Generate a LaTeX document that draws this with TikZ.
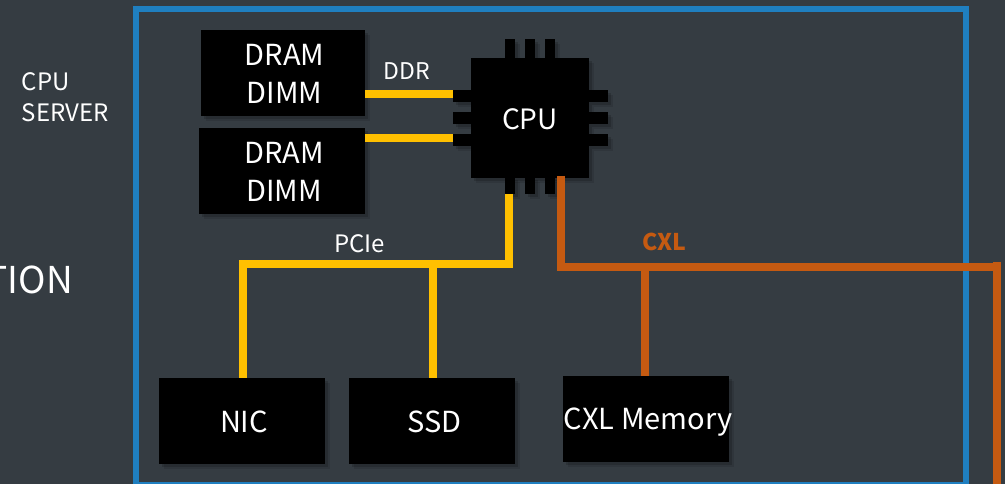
\documentclass[tikz,border=0pt]{standalone}
\usepackage{fontspec}
\setmainfont{Noto Sans CJK SC}[Scale=1.0]
\usetikzlibrary{shadows}
\definecolor{bgc}{HTML}{353C42}
\definecolor{frameblue}{HTML}{1F7FC0}
\definecolor{busyellow}{HTML}{FFC000}
\definecolor{busorange}{HTML}{C55A11}
\newcommand{\fsl}[2]{\fontsize{#1pt}{#2pt}\selectfont}
\tikzset{
  x=1pt,y=-1pt,
  softshadow/.style={preaction={fill=black,opacity=.10,transform canvas={xshift=5pt,yshift=-5pt}},
                     preaction={fill=black,opacity=.16,transform canvas={xshift=3pt,yshift=-3pt}}},
  blk/.style={fill=black,draw=none,softshadow,inner sep=0pt,outer sep=0pt,minimum width=#1,minimum height=86pt},
  boxtext/.style={text=white,inner sep=0pt,align=center,font=\fsl{29}{38}},
  pinbox/.style={fill=black,draw=none,softshadow,inner sep=0pt,outer sep=0pt,minimum width=#1},
  lbl/.style={text=white,inner sep=0pt,font=\fsl{24}{28}},
  ddrbus/.style={draw=busyellow,line width=8pt},
  cxlbus/.style={draw=busorange,line width=8pt},
}
\begin{document}
\begin{tikzpicture}
\useasboundingbox (0,0) rectangle (1005,484);
\fill[bgc] (0,0) rectangle (1005,484);
\clip (0,0) rectangle (1005,484);
% text at left
\node[lbl,anchor=base west] (cputitle) at (21.5,91) {CPU};
\node[lbl,anchor=base west] (servertitle) at (21.5,122) {SERVER};
\node[text=white,inner sep=0pt,font=\fsl{37}{40},anchor=base east] (tion) at (73,293) {TION};
% frame
\draw[frameblue,line width=6pt] (136,9) rectangle (966,485);
% coordinates of the buses
\coordinate (pcieTop) at (509,194);
\coordinate (pcieR) at (509,264);
\coordinate (pcieL) at (243,264);
\coordinate (pcieM) at (433,264);
\coordinate (cxlTop) at (561,176);
\coordinate (cxlJ) at (561,267);
\coordinate (cxlM) at (645,267);
\coordinate (cxlR) at (1001,267);
\coordinate (cxlCorner) at (997,262);
\coordinate (cxlOut) at (997,490);
% CPU pins
\foreach \n/\cx in {1/510,2/530,3/550}{
  \node[pinbox=10.5pt,minimum height=19pt] (pt\n) at (\cx,49) {};
  \node[pinbox=10.5pt,minimum height=17pt] (pb\n) at (\cx,186) {};
}
\foreach \n/\cy in {1/96,2/118,3/140}{
  \node[pinbox=19pt,minimum height=12.4pt] (pl\n) at (462,\cy) {};
  \node[pinbox=19pt,minimum height=12.4pt] (pr\n) at (598,\cy) {};
}
\node[blk=118.5pt,minimum height=120pt] (cpu) at (529.8,117.7) {};
\node[boxtext,font=\fsl{28}{34}] (cput) at (530,119) {CPU};
% boxes
\node[blk=164pt] (d1) at (283,73) {};
\node[blk=166pt] (d2) at (282,171) {};
\node[blk=166pt] (nic) at (242,421) {};
\node[blk=166pt] (ssd) at (432,421) {};
\node[blk=166pt] (cxl) at (646,419) {};
\node[boxtext] (d1t) at (284.5,74) {DRAM\\DIMM};
\node[boxtext] (d2t) at (284,172) {DRAM\\DIMM};
\node[boxtext] (nict) at (244,422) {NIC};
\node[boxtext] (ssdt) at (434.5,422) {SSD};
\node[boxtext,font=\fsl{29}{34}] (cxlt) at (648,422) {CXL Memory};
% DDR
\draw[ddrbus] (d1.east |- 0,94) -- (pl1.west |- 0,94);
\draw[ddrbus] (d2.east |- 0,138) -- (pl3.west |- 0,138);
% PCIe
\draw[ddrbus,line cap=butt,line join=miter] (pcieTop) -- (pcieR) -- (pcieL) -- (pcieL |- nic.north);
\draw[ddrbus] (pcieM) -- (pcieM |- ssd.north);
% CXL
\draw[cxlbus,line join=miter] (cxlTop) -- (cxlJ) -- (cxlR);
\draw[cxlbus] (cxlCorner) -- (cxlOut);
\draw[cxlbus] (cxlM) -- (cxlM |- cxl.north);
% labels
\node[text=white,inner sep=0pt,font=\fsl{23}{28},anchor=base] (ddrl) at (407,80) {DDR};
\node[text=white,inner sep=0pt,font=\fsl{24}{28},anchor=base] (pciel) at (359.5,252) {PCIe};
\node[text=busorange,inner sep=0pt,font=\fsl{23}{28}\bfseries,anchor=base] (cxll) at (664.5,251) {CXL};
\end{tikzpicture}
\end{document}
